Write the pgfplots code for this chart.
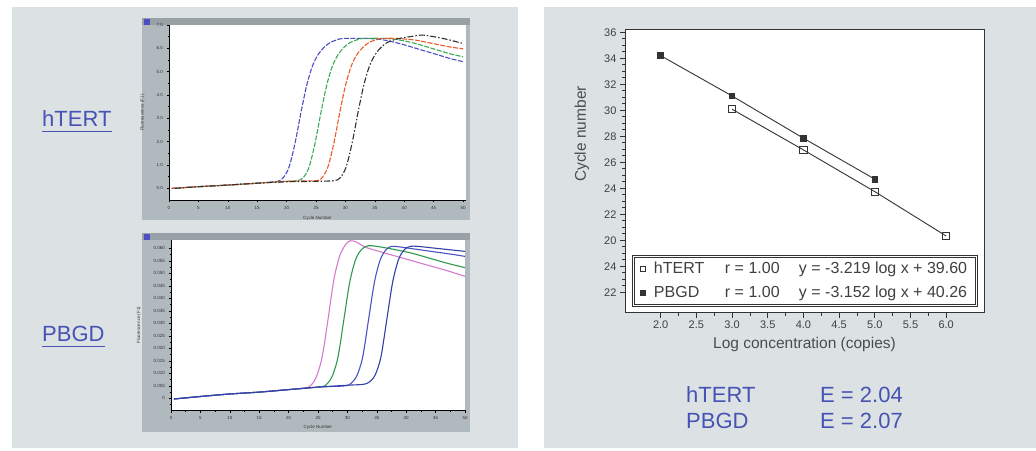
\documentclass[border=0pt]{standalone}
\usepackage{fontspec}
\setmainfont{Liberation Sans}
\usepackage{pgfplots}
\pgfplotsset{compat=1.18}
\definecolor{panel}{HTML}{DCE2E3}
\definecolor{framegray}{HTML}{B0B9BE}
\definecolor{bargray}{HTML}{98A1A6}
\definecolor{txtblue}{HTML}{4652B4}
\definecolor{cblue}{HTML}{4B4FC2}
\definecolor{cgreen}{HTML}{3DAA55}
\definecolor{corange}{HTML}{F0582C}
\definecolor{cblack}{HTML}{303030}
\definecolor{cpink}{HTML}{D47BCE}
\definecolor{cgreenb}{HTML}{2F9A4C}
\definecolor{cblueb}{HTML}{4A52C6}
\definecolor{cnavy}{HTML}{3340A8}

\pgfplotsset{
  smallamp/.style={
    scale only axis, anchor=south west,
    axis background/.style={fill=white},
    axis x line*=bottom, axis y line*=left,
    axis line style={black, line width=0.6pt},
    tick align=outside, major tick length=2.5pt, minor tick length=1.5pt,
    tick style={black, line width=0.5pt},
    ticklabel style={font=\fontsize{4.5}{5}\selectfont, text=black!80},
    label style={font=\fontsize{4.5}{5}\selectfont, text=black!80},
    xtick={0,5,...,50}, minor x tick num=1, minor y tick num=1,
    /pgf/number format/assume math mode=true,
    every axis plot/.append style={line width=1.1pt, smooth, no marks},
  }
}

\begin{document}
\begin{tikzpicture}
\useasboundingbox (0pt,0pt) rectangle (1036pt,450pt);
\fill[white] (0pt,0pt) rectangle (1036pt,450pt);
\fill[panel] (12pt,2pt) rectangle (518pt,443pt);
\fill[panel] (544pt,2pt) rectangle (1036pt,443pt);

% frames of the two amplification screenshots
\fill[framegray] (142pt,230pt) rectangle (470pt,432pt);
\fill[bargray] (142pt,425pt) rectangle (470pt,432pt);
\fill[cblue] (144pt,425pt) rectangle (150pt,431pt);
\fill[framegray] (142pt,18pt) rectangle (470pt,217pt);
\fill[bargray] (142pt,210pt) rectangle (470pt,217pt);
\fill[cblue] (144pt,210pt) rectangle (150pt,216pt);

% hTERT amplification curves
\begin{axis}[smallamp, at={(169pt,250pt)}, width=297pt, height=175pt,
  xmin=0, xmax=50.5, ymin=-0.5, ymax=7,
  ytick={0,...,7}, yticklabels={0.0,1.0,2.0,3.0,4.0,5.0,6.0,7.0},
  xlabel={Cycle Number}, ylabel={Fluorescence (F1)},
  xlabel style={at={(axis description cs:0.5,-0.07)}, anchor=north},
  ylabel style={at={(axis description cs:-0.07,0.5)}, anchor=south}]
\addplot[cblue, dash pattern=on 5pt off 1.5pt] coordinates {
  (0.5,0.0)(5,0.07)(10,0.14)(15,0.22)(18.4,0.3)(19.4,0.45)(20.4,0.9)(21.4,1.9)
  (22.4,3.2)(23.4,4.4)(24.4,5.25)(25.4,5.75)(26.4,6.05)(27.4,6.25)(28.4,6.35)
  (29.4,6.42)(32,6.43)(34,6.42)(36,6.38)(38,6.28)(40,6.15)(42,6.0)(44,5.85)
  (46,5.7)(48,5.55)(50,5.43)};
\addplot[cgreen, dash pattern=on 5pt off 1.5pt] coordinates {
  (1,0.0)(5,0.07)(10,0.14)(15,0.22)(20,0.3)(21.8,0.33)(22.8,0.45)(23.8,0.9)
  (24.8,1.9)(25.8,3.2)(26.8,4.4)(27.8,5.25)(28.8,5.75)(29.8,6.05)(30.8,6.25)
  (31.8,6.35)(32.8,6.42)(36,6.43)(38,6.4)(40,6.32)(42,6.2)(44,6.05)(46,5.9)
  (48,5.75)(50,5.64)};
\addplot[corange, dash pattern=on 5pt off 1.5pt] coordinates {
  (0.4,0.0)(5,0.07)(10,0.14)(15,0.22)(20,0.3)(25,0.33)(26,0.45)(27,0.9)
  (28,1.9)(29,3.2)(30,4.4)(31,5.25)(32,5.75)(33,6.05)(34,6.25)(35,6.35)
  (36,6.42)(38,6.43)(40,6.4)(42,6.35)(44,6.25)(46,6.15)(48,6.05)(50,5.98)};
\addplot[cblack, dash pattern=on 6pt off 2pt on 1.5pt off 2pt] coordinates {
  (1,0.0)(5,0.07)(10,0.14)(15,0.22)(20,0.28)(25,0.3)(28.1,0.33)(29.1,0.45)
  (30.1,0.9)(31.1,1.9)(32.1,3.2)(33.1,4.4)(34.1,5.25)(35.1,5.75)(36.1,6.05)
  (37.1,6.25)(38.1,6.35)(39.1,6.42)(41,6.5)(43,6.57)(45,6.5)(47,6.4)(50,6.21)};
\end{axis}

% PBGD amplification curves
\begin{axis}[smallamp, at={(171pt,40pt)}, width=294pt, height=170pt,
  xmin=0, xmax=50, ymin=-0.93, ymax=12.66,
  ytick={-1,...,12},
  yticklabels={-0.005,0,0.005,0.010,0.015,0.020,0.025,0.030,0.035,0.040,0.045,0.050,0.055,0.060},
  xlabel={Cycle Number}, ylabel={Fluorescence (F1)},
  xlabel style={at={(axis description cs:0.5,-0.07)}, anchor=north},
  ylabel style={at={(axis description cs:-0.09,0.5)}, anchor=south}]
\addplot[cpink] coordinates {
  (0.5,-0.05)(5,0.15)(10,0.35)(15,0.5)(20,0.7)(22.7,0.82)(23.7,1.0)(24.7,1.7)
  (25.7,3.3)(26.7,6.3)(27.7,9.5)(28.7,11.4)(29.7,12.3)(30.5,12.6)(31.5,12.5)
  (33,12.1)(35,11.8)(38,11.4)(41,11.0)(44,10.6)(47,10.2)(50,9.75)};
\addplot[cgreenb] coordinates {
  (0.5,-0.05)(5,0.15)(10,0.35)(15,0.5)(20,0.7)(25.4,0.92)(26.4,1.1)(27.4,1.75)
  (28.4,3.3)(29.4,6.3)(30.4,9.3)(31.4,11.1)(32.4,11.9)(33.5,12.2)(35,12.15)
  (38,11.9)(41,11.6)(44,11.2)(47,10.8)(50,10.45)};
\addplot[cblueb] coordinates {
  (0.5,-0.05)(5,0.15)(10,0.35)(15,0.5)(20,0.7)(25,0.9)(29.6,1.0)(30.6,1.2)
  (31.6,1.8)(32.6,3.3)(33.6,6.3)(34.6,9.3)(35.6,11.1)(36.6,11.9)(37.5,12.15)
  (39,12.1)(42,11.9)(45,11.7)(48,11.5)(50,11.35)};
\addplot[cnavy] coordinates {
  (0.5,-0.05)(5,0.15)(10,0.35)(15,0.5)(20,0.7)(25,0.9)(30,1.05)(32.7,1.12)
  (33.7,1.3)(34.7,1.85)(35.7,3.3)(36.7,6.3)(37.7,9.3)(38.7,11.1)(39.7,11.9)
  (40.7,12.15)(42,12.15)(45,12.0)(48,11.85)(50,11.75)};
\end{axis}

% standard curves
\begin{axis}[at={(625pt,137.3pt)}, anchor=south west, scale only axis,
  width=359pt, height=283.7pt,
  xmin=1.5, xmax=6.53, ymin=14.43, ymax=36.25,
  axis background/.style={fill=white},
  axis line style={black!80, line width=0.9pt},
  tick pos=left, tick align=outside,
  major tick length=5pt, minor tick length=3pt,
  tick style={black!80, line width=0.8pt},
  xtick={2,2.5,...,6}, minor x tick num=1,
  ytick={16,18,...,36}, yticklabels={22,24,20,22,24,26,28,30,32,34,36},
  minor y tick num=3,
  /pgf/number format/.cd, fixed, fixed zerofill, precision=1, assume math mode=true,
  /pgfplots/.cd,
  ticklabel style={font=\fontsize{11}{12}\selectfont, text=black!75},
  xlabel={Log concentration (copies)}, ylabel={Cycle number},
  label style={font=\fontsize{15.5}{17}\selectfont, text=black!70},
  xlabel style={at={(axis description cs:0.5,-0.075)}, anchor=north},
  ylabel style={at={(axis description cs:-0.12,0.63)}, anchor=center},
  legend style={at={(0.019,0.021)}, anchor=south west, draw=black!80,
    line width=0.7pt, fill=white, name=stdleg,
    font=\fontsize{16}{18}\selectfont, text=black!75,
    row sep=7pt, inner xsep=8pt, inner ysep=5pt,
    /tikz/every odd column/.style={column sep=7pt}},
  legend cell align=left,
  legend image code/.code={\draw[mark repeat=1,mark phase=1,#1,mark size=2.4pt]
    plot coordinates {(0pt,0pt)};},
]
\addplot[black!80, line width=0.9pt, mark=square, mark size=3.6pt,
  mark options={fill=white, solid}] coordinates {
  (3.0,30.08)(4.0,26.95)(5.0,23.74)(6.0,20.33)};
\addlegendentry{\makebox[71pt][l]{hTERT}\makebox[74pt][l]{r = 1.00}y = -3.219 log x + 39.60}
\addplot[black!80, line width=0.9pt, mark=square*, mark size=2.8pt,
  mark options={fill=black!80, solid}] coordinates {
  (2.0,34.2)(3.0,31.1)(4.0,27.85)(5.0,24.7)};
\addlegendentry{\makebox[71pt][l]{PBGD}\makebox[74pt][l]{r = 1.00}y = -3.152 log x + 40.26}
\end{axis}
% inner line of the legend's double frame
\draw[black!80, line width=0.6pt] ([shift={(2.5pt,2.5pt)}]stdleg.south west)
  rectangle ([shift={(-2.5pt,-2.5pt)}]stdleg.north east);

% labels
\begin{scope}[every node/.style={inner sep=0pt, text=txtblue,
    font=\fontsize{22}{24}\selectfont, anchor=base west}]
\node (lh) at (42pt,323pt) {hTERT};
\node (lp) at (42pt,108pt) {PBGD};
\node at (686pt,48pt) {hTERT};
\node at (686pt,22pt) {PBGD};
\node at (820pt,48pt) {E = 2.04};
\node at (820pt,22pt) {E = 2.07};
\end{scope}
\draw[txtblue, line width=1.6pt] (42pt,318.5pt) -- (lh.base east |- 0pt,318.5pt);
\draw[txtblue, line width=1.6pt] (42pt,103.5pt) -- (lp.base east |- 0pt,103.5pt);
\end{tikzpicture}
\end{document}
